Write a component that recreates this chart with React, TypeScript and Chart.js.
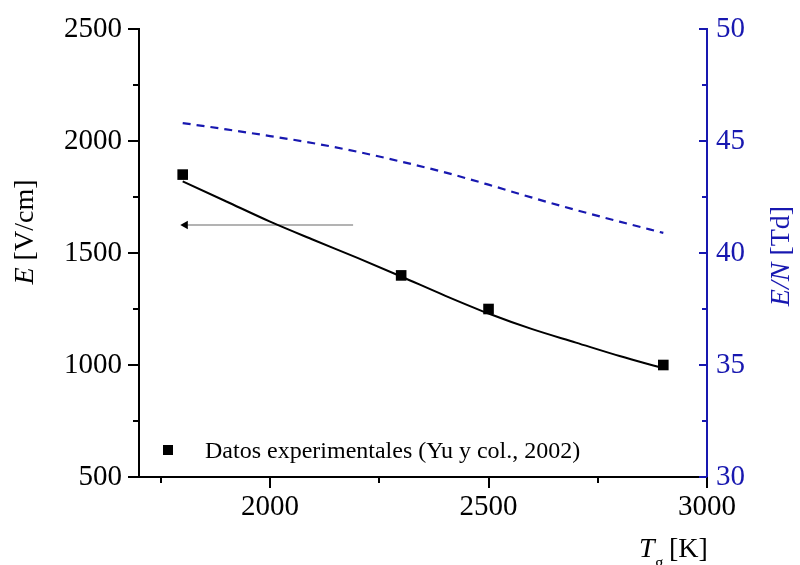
import React, { useEffect, useRef } from 'react';
import { Chart, registerables } from 'chart.js';
Chart.register(...registerables);

// ---- data ----
const expTemperatures = [1800, 2300, 2500, 2900];
const expField = [1850, 1400, 1250, 1000];

const fitTemperatures = [1800, 1900, 2000, 2100, 2200, 2300, 2400, 2500, 2600, 2700, 2800, 2900];
const fitField = [1820, 1730, 1640, 1558, 1478, 1395, 1310, 1230, 1160, 1100, 1040, 985];
const reducedField = [45.8, 45.52, 45.22, 44.9, 44.52, 44.08, 43.6, 43.05, 42.47, 41.92, 41.4, 40.9];

const arrowTemperatures = [1806, 2190];
const arrowField = [1625, 1625];

const xTicks = [2000, 2500, 3000];
const xMinorTicks = [1750, 2250, 2750];
const yTicks = [500, 1000, 1500, 2000, 2500];
const yMinorTicks = [750, 1250, 1750, 2250];
const y1Ticks = [30, 35, 40, 45, 50];
const y1MinorTicks = [32.5, 37.5, 42.5, 47.5];

const legendLabel = 'Datos experimentales (Yu y col., 2002)';

const BLUE = '#1818b0';
const FONT = "'Liberation Serif', 'Times New Roman', serif";

const decorPlugin = {
  id: 'decor',
  afterDraw(chart: any) {
    const ctx = chart.ctx;
    const { x, y, y1 } = chart.scales;
    const ca = chart.chartArea;
    ctx.save();
    ctx.lineWidth = 2;
    ctx.strokeStyle = '#000';
    const drawTicks = (vals: number[], len: number, fn: (v: number, l: number) => void) => vals.forEach(v => fn(v, len));
    const leftTick = (v: number, l: number) => {
      const p = Math.round(y.getPixelForValue(v));
      ctx.beginPath(); ctx.moveTo(ca.left - l, p); ctx.lineTo(ca.left, p); ctx.stroke();
    };
    drawTicks(yTicks, 11, leftTick);
    drawTicks(yMinorTicks, 6, leftTick);
    const bottomTick = (v: number, l: number) => {
      const p = Math.round(x.getPixelForValue(v));
      ctx.beginPath(); ctx.moveTo(p, ca.bottom); ctx.lineTo(p, ca.bottom + l); ctx.stroke();
    };
    drawTicks(xTicks, 11, bottomTick);
    drawTicks(xMinorTicks, 6, bottomTick);
    ctx.strokeStyle = BLUE;
    const rightTick = (v: number, l: number) => {
      const p = Math.round(y1.getPixelForValue(v));
      ctx.beginPath(); ctx.moveTo(ca.right - l, p); ctx.lineTo(ca.right, p); ctx.stroke();
    };
    drawTicks(y1Ticks, 8, rightTick);
    drawTicks(y1MinorTicks, 5, rightTick);

    // legend
    ctx.fillStyle = '#000';
    ctx.fillRect(163, 445, 10, 10);
    ctx.font = `24px ${FONT}`;
    ctx.textBaseline = 'alphabetic';
    ctx.textAlign = 'left';
    ctx.fillText(legendLabel, 205, 458);

    // x title: T_g [K]
    ctx.font = `italic 28px ${FONT}`;
    ctx.fillText('T', 639, 557);
    ctx.font = `17px ${FONT}`;
    ctx.fillText('g', 655, 568);
    ctx.font = `28px ${FONT}`;
    ctx.fillText('[K]', 669, 557);

    const rotText = (parts: { t: string; italic: boolean }[], cx: number, cy: number, color: string) => {
      ctx.save();
      ctx.translate(cx, cy);
      ctx.rotate(-Math.PI / 2);
      ctx.fillStyle = color;
      ctx.textBaseline = 'middle';
      let total = 0;
      const widths = parts.map(p => {
        ctx.font = `${p.italic ? 'italic ' : ''}28px ${FONT}`;
        const w = ctx.measureText(p.t).width;
        total += w;
        return w;
      });
      let cur = -total / 2;
      parts.forEach((p, i) => {
        ctx.font = `${p.italic ? 'italic ' : ''}28px ${FONT}`;
        ctx.fillText(p.t, cur, 0);
        cur += widths[i];
      });
      ctx.restore();
    };
    rotText([{ t: 'E', italic: true }, { t: ' [V/cm]', italic: false }], 26, 232, '#000');
    rotText([{ t: 'E/N', italic: true }, { t: ' [Td]', italic: false }], 782, 256, BLUE);
    ctx.restore();
  },
};

const plain = (v: any) => String(v);

export default function App() {
  const ref = useRef<HTMLCanvasElement>(null);
  useEffect(() => {
    if (!ref.current) return;
    const chart = new Chart(ref.current, {
      type: 'line',
      data: {
        datasets: [
          {
            label: 'fit',
            data: fitTemperatures.map((t, i) => ({ x: t, y: fitField[i] })),
            borderColor: '#000',
            borderWidth: 2,
            pointRadius: 0,
            cubicInterpolationMode: 'monotone',
            yAxisID: 'y',
          },
          {
            label: legendLabel,
            data: expTemperatures.map((t, i) => ({ x: t, y: expField[i] })),
            showLine: false,
            pointStyle: 'rect',
            pointRadius: 7.5,
            pointBackgroundColor: '#000',
            pointBorderColor: '#000',
            pointBorderWidth: 0,
            yAxisID: 'y',
          },
          {
            label: 'E/N',
            data: fitTemperatures.map((t, i) => ({ x: t, y: reducedField[i] })),
            borderColor: BLUE,
            borderWidth: 2.2,
            borderDash: [8, 6],
            pointRadius: 0,
            cubicInterpolationMode: 'monotone',
            yAxisID: 'y1',
          },
          {
            label: 'arrow',
            data: arrowTemperatures.map((t, i) => ({ x: t, y: arrowField[i] })),
            borderColor: '#9a9a9a',
            borderWidth: 1.5,
            pointStyle: 'triangle',
            pointRadius: [5, 0],
            pointRotation: [-90, 0],
            pointBackgroundColor: '#000',
            pointBorderColor: '#000',
            pointBorderWidth: 0,
            yAxisID: 'y',
          },
        ],
      },
      options: {
        responsive: false,
        animation: false,
        events: [],
        layout: { padding: { top: 29, left: 0, right: 0, bottom: 0 } },
        plugins: { legend: { display: false }, tooltip: { enabled: false }, title: { display: false } },
        scales: {
          x: {
            type: 'linear',
            min: 1700,
            max: 3000,
            afterBuildTicks: (s: any) => { s.ticks = xTicks.map(v => ({ value: v })); },
            afterFit: (s: any) => { s.height = 88; s.paddingLeft = 0; s.paddingRight = 0; },
            grid: { display: false, drawTicks: false },
            border: { display: true, color: '#000', width: 2 },
            ticks: { color: '#000', font: { family: FONT, size: 29 }, padding: 13, maxRotation: 0, callback: plain },
          },
          y: {
            type: 'linear',
            position: 'left',
            min: 500,
            max: 2500,
            afterBuildTicks: (s: any) => { s.ticks = yTicks.map(v => ({ value: v })); },
            afterFit: (s: any) => { s.width = 139; s.paddingTop = 0; s.paddingBottom = 0; },
            grid: { display: false, drawTicks: false },
            border: { display: true, color: '#000', width: 2 },
            ticks: { color: '#000', font: { family: FONT, size: 29 }, padding: 17, callback: plain },
          },
          y1: {
            type: 'linear',
            position: 'right',
            min: 30,
            max: 50,
            afterBuildTicks: (s: any) => { s.ticks = y1Ticks.map(v => ({ value: v })); },
            afterFit: (s: any) => { s.width = 93; s.paddingTop = 0; s.paddingBottom = 0; },
            grid: { display: false, drawTicks: false },
            border: { display: true, color: BLUE, width: 2 },
            ticks: { color: BLUE, font: { family: FONT, size: 29 }, padding: 9, callback: plain },
          },
        },
      },
      plugins: [decorPlugin],
    } as any);
    return () => chart.destroy();
  }, []);
  return (
    <div style={{ position: 'absolute', left: 0, top: 0, width: 800, height: 565, background: '#fff' }}>
      <canvas ref={ref} width={800} height={565} style={{ display: 'block' }} />
    </div>
  );
}
